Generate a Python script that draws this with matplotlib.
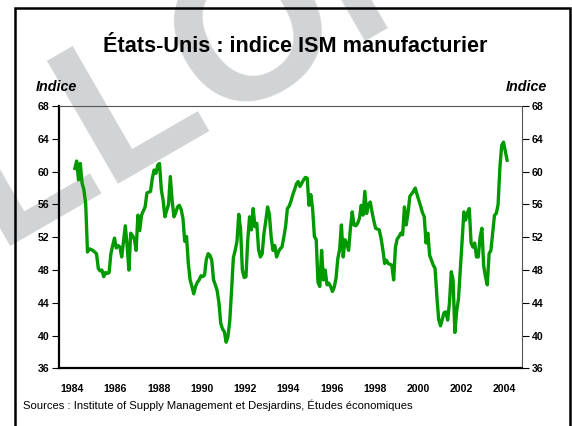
import numpy as np
import matplotlib.pyplot as plt
from matplotlib.patches import Rectangle

# ISM manufacturing index, monthly, Jan 1984 .. Jan 2004
ism_1984_1988 = [60.4, 61.3, 59.0, 61.0, 58.6, 57.8, 56.1, 50.2, 50.6, 50.5, 50.4, 50.2,
                 50.0, 48.2, 47.9, 48.0, 47.2, 47.7, 47.6, 47.7, 50.0, 51.0, 51.9, 50.7,
                 51.0, 50.8, 49.6, 51.5, 53.4, 51.0, 48.0, 52.5, 52.2, 51.8, 50.4, 54.7,
                 52.8, 54.7, 55.2, 55.7, 57.4, 57.5, 57.6, 59.2, 60.2, 59.8, 60.8, 61.0,
                 57.8, 56.5, 54.5, 55.3, 56.0, 59.4, 56.5, 54.5, 55.0, 55.7, 55.9, 55.4]
ism_1989_1993 = [54.3, 51.5, 52.1, 48.8, 46.8, 46.0, 45.1, 46.0, 46.5, 46.8, 47.3, 47.2,
                 47.4, 49.3, 50.0, 49.8, 49.2, 46.8, 46.2, 45.5, 44.0, 41.5, 40.8, 40.5,
                 39.2, 39.9, 41.8, 45.5, 49.5, 50.4, 51.5, 54.8, 53.0, 48.0, 47.1, 47.2,
                 51.7, 54.5, 52.9, 55.5, 53.3, 53.7, 50.5, 49.6, 50.0, 52.5, 54.0, 55.7,
                 54.8, 52.0, 50.4, 51.0, 49.6, 50.2, 50.6, 50.8, 52.0, 53.3, 55.5, 55.8]
ism_1994_1998 = [56.4, 57.2, 57.8, 58.5, 58.8, 58.2, 58.6, 59.0, 59.3, 59.2, 55.9, 57.2,
                 55.5, 52.1, 51.7, 46.5, 46.0, 50.4, 46.8, 48.0, 46.2, 46.4, 46.0, 45.4,
                 45.9, 47.0, 49.4, 50.5, 53.5, 49.6, 51.7, 51.2, 50.4, 53.1, 55.1, 53.5,
                 53.4, 53.7, 54.3, 55.9, 54.7, 57.6, 54.9, 56.0, 56.3, 55.1, 54.0, 53.1,
                 53.0, 52.9, 51.9, 50.5, 48.8, 49.2, 48.8, 48.7, 48.6, 46.8, 50.8, 51.8]
ism_1999_2004 = [52.1, 52.5, 52.3, 55.7, 53.5, 55.0, 57.0, 57.3, 57.6, 58.0, 57.2, 56.5,
                 55.8, 55.0, 54.5, 51.3, 52.5, 49.8, 49.2, 48.6, 48.2, 44.8, 42.0, 41.2,
                 42.0, 42.8, 42.9, 41.9, 44.0, 47.8, 46.8, 40.4, 43.0, 44.5, 47.9, 51.5,
                 55.1, 54.1, 55.0, 55.5, 51.3, 50.8, 51.3, 49.6, 49.6, 52.0, 53.1, 48.5,
                 47.2, 46.2, 50.0, 50.4, 52.5, 54.7, 54.9, 56.0, 60.5, 63.2, 63.6, 62.5,
                 61.4]
ism = ism_1984_1988 + ism_1989_1993 + ism_1994_1998 + ism_1999_2004
years = 1984 + np.arange(len(ism)) / 12
year_labels = list(range(1984, 2005, 2))
y_ticks = list(range(36, 69, 4))

plt.rcParams['font.family'] = 'Liberation Sans'
fig = plt.figure(figsize=(5.72, 4.26), dpi=100)

# watermark, behind everything
fig.text(-4 / 572, 1 - 246 / 426, "LLON", fontsize=148, fontweight='bold', color='#d2d3d5',
         rotation=30, rotation_mode='anchor', ha='left', va='baseline', zorder=-1)

ax = fig.add_axes([0.1037, 0.135, 0.8089, 0.616])
ax.set_facecolor('none')
ax.plot(years, ism, color='#009a00', lw=2.4, zorder=3)

ax.set_ylim(36, 68)
ax.set_xlim(1983.28, 2004.69)
ax.set_yticks(y_ticks)
ax.set_xticks([y - 0.12 for y in year_labels])
ax.set_xticklabels([str(y) for y in year_labels], fontweight='bold', fontsize=7.6)
ax.tick_params(axis='x', length=0, pad=11)
ax.tick_params(axis='y', direction='out', length=5, width=0.8, labelsize=7.6,
               left=True, right=True, labelleft=True, labelright=True, pad=2)
for lab in ax.get_yticklabels():
    lab.set_fontweight('bold')
ax.spines['left'].set_linewidth(1.6)
ax.spines['bottom'].set_linewidth(1.6)
ax.spines['top'].set_linewidth(0.8)
ax.spines['top'].set_color('#555555')
ax.spines['right'].set_linewidth(0.8)
ax.spines['right'].set_color('#555555')

fig.text(0.517, 1 - 47 / 426, "États-Unis : indice ISM manufacturier", ha='center', va='center',
         fontsize=15.6, fontweight='bold')
fig.text(36 / 572, 1 - 87 / 426, "Indice", ha='left', va='center', fontsize=10.3,
         fontweight='bold', style='italic')
fig.text(547 / 572, 1 - 87 / 426, "Indice", ha='right', va='center', fontsize=10.3,
         fontweight='bold', style='italic')
fig.text(23 / 572, 1 - 405 / 426,
         "Sources : Institute of Supply Management et Desjardins, Études économiques",
         ha='left', va='center', fontsize=8.1)

# outer frame (cut by the bottom edge)
fig.patches.append(Rectangle((14.5 / 572, -0.05), 555.5 / 572, 1.05 - 7.5 / 426,
                             transform=fig.transFigure, fill=False, lw=1.8,
                             edgecolor='black', zorder=5))

fig.savefig('out.png', dpi=100)
